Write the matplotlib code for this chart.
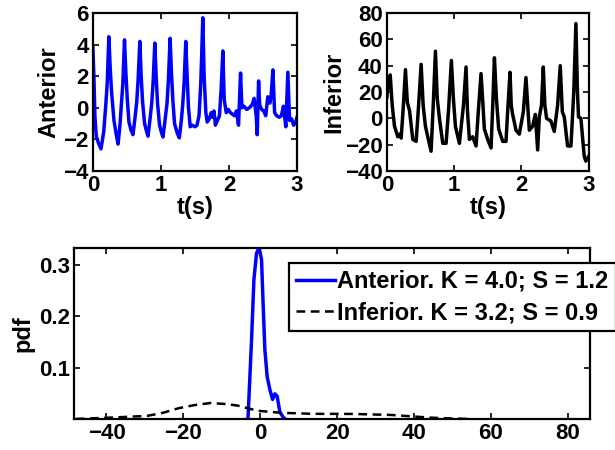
import numpy as np
import matplotlib
matplotlib.use("Agg")
import matplotlib.pyplot as plt

# anterior signal
t_ant = [0.00, 0.015, 0.03, 0.05, 0.08, 0.12, 0.16, 0.19, 0.21, 0.235,
         0.255, 0.275, 0.31, 0.34, 0.37, 0.40, 0.42, 0.44, 0.465,
         0.485, 0.505, 0.53, 0.56, 0.59, 0.62, 0.645, 0.665, 0.69,
         0.71, 0.73, 0.76, 0.79, 0.81, 0.84, 0.865, 0.885, 0.91,
         0.93, 0.95, 0.98, 1.01, 1.03, 1.06, 1.09, 1.11, 1.135,
         1.155, 1.175, 1.20, 1.24, 1.27, 1.30, 1.32, 1.34, 1.365,
         1.385, 1.405, 1.43, 1.46, 1.50, 1.53, 1.56, 1.585, 1.60, 1.615,
         1.635, 1.66, 1.68, 1.71, 1.74, 1.76, 1.78, 1.80, 1.83, 1.86, 1.885, 1.91,
         1.93, 1.96, 1.99, 2.02, 2.05, 2.08, 2.11, 2.14, 2.17,
         2.19, 2.22, 2.26, 2.30, 2.34, 2.37, 2.40, 2.415, 2.435,
         2.45, 2.48, 2.51, 2.54, 2.57, 2.60, 2.62, 2.645,
         2.67, 2.70, 2.74, 2.77, 2.80, 2.835, 2.865,
         2.89, 2.92, 2.95, 2.98, 3.00]
v_ant = [3.8, 2.0, -0.5, -1.8, -2.2, -2.6, -1.5, 0.2, 1.5, 4.5,
         2.5, 1.0, -0.8, -1.6, -2.3, -1.0, 0.3, 1.5, 4.3,
         2.2, 0.6, -0.9, -1.4, -1.7, -0.6, 0.4, 1.8, 4.2,
         2.0, 0.4, -1.0, -1.5, -1.8, -0.7, 0.3, 1.6, 4.1,
         2.0, 0.3, -1.1, -1.6, -1.85, -0.8, 0.3, 1.8, 4.4,
         2.2, 0.5, -1.0, -1.6, -1.9, -0.8, 0.2, 1.5, 4.2,
         2.0, 0.0, -1.2, -1.1, -1.2, -1.1, -0.5, 1.5, 3.5, 5.7,
         2.0, -0.3, -0.9, -0.7, -0.3, -0.6, -0.2, -1.1, -0.8, -0.5, 1.2, 3.6,
         0.5, -0.3, -0.1, -0.3, -0.4, -0.5, -0.2, -1.1, 2.2,
         0.0, 0.1, -0.1, 0.0, 0.2, 0.6, -0.5, -1.7, 1.7,
         0.2, -0.1, -0.2, -0.5, 0.7, 0.3, 0.8, 2.4,
         -0.3, -0.5, -0.6, -0.5, 0.1, -1.2, 2.25,
         -0.8, -0.7, -1.1, -0.9, -0.6]

# inferior signal
t_inf = [0.00, 0.015, 0.05, 0.08, 0.114, 0.163, 0.19, 0.213, 0.24, 0.277,
         0.305, 0.337, 0.386, 0.436, 0.47, 0.51, 0.54, 0.574, 0.609, 0.658,
         0.69, 0.723, 0.75, 0.782, 0.832, 0.881, 0.92, 0.96,
         0.99, 1.02, 1.079, 1.14, 1.178, 1.20, 1.228, 1.277, 1.327,
         1.36, 1.401, 1.43, 1.45, 1.50, 1.55, 1.575, 1.60,
         1.63, 1.663, 1.723, 1.772, 1.80, 1.832, 1.85, 1.871, 1.921, 1.97,
         2.03, 2.069, 2.095, 2.119, 2.168, 2.208, 2.243, 2.267, 2.30, 2.327,
         2.35, 2.376, 2.44, 2.49, 2.54, 2.579, 2.61, 2.639, 2.688, 2.738,
         2.78, 2.812, 2.835, 2.851, 2.886, 2.936, 2.96, 3.00]
v_inf = [16, 24, 33, 10, -6, -14, -12, -15, 5, 37,
         12, 6, -16, -17.5, 8, 41, 10, -6, -14, -25,
         10, 51, 15, 0, -19, -19, 8, 44,
         15, -6, -19, 10, 39, 5, -16, -14, -21,
         5, 34, 10, -8, -16, -22.5, 10, 46,
         15, -8, -17.5, -17.5, 8, 35, 10, 3, -9, -12,
         5, 31, 10, -9, -6, 3, -24, 1, 10, 39,
         10, 0, -2, -10, 10, 40, 5, 1, -21, -21,
         20, 72, 20, 1, 0, -29, -32.5, -29]

# pdf curves
x_pdf_ant = [-3.2, -2.27, -1.66, -0.97, -0.28, 0.33, 0.76, 1.2, 1.8, 2.5,
             3.2, 3.8, 4.4, 5.1, 6.0, 6.5]
p_pdf_ant = [0.0, 0.154, 0.271, 0.323, 0.333, 0.31, 0.219, 0.134, 0.082, 0.057,
             0.038, 0.049, 0.044, 0.013, 0.003, 0.0]
x_pdf_inf = [-48, -37.6, -29.4, -25.3, -21.2, -17.1, -13.0, -8.9, -5.9, -2.8,
             -0.8, 2.3, 5.4, 13.6, 23.8, 34.0, 40.2, 44.2, 50.4, 55]
p_pdf_inf = [0.0, 0.003, 0.006, 0.012, 0.021, 0.027, 0.031, 0.029, 0.026, 0.020,
             0.016, 0.014, 0.012, 0.010, 0.0098, 0.0078, 0.0046, 0.0026, 0.0007, 0.0]

legend_labels = ["Anterior. K = 4.0; S = 1.2", "Inferior. K = 3.2; S = 0.9"]

plt.rcParams['font.family'] = ['Liberation Sans', 'DejaVu Sans']
plt.rcParams['font.weight'] = 'bold'
plt.rcParams['axes.labelweight'] = 'bold'

fig = plt.figure(figsize=(6.15, 4.5), dpi=100)
ax1 = fig.add_axes([0.151, 0.62, 0.332, 0.351])
ax2 = fig.add_axes([0.629, 0.62, 0.328, 0.351])
ax3 = fig.add_axes([0.120, 0.069, 0.839, 0.38])

ax1.plot(t_ant, v_ant, color=(0, 0, 1), lw=2.5)
ax1.set_xlim(0, 3)
ax1.set_ylim(-4, 6)
ax1.set_yticks([-4, -2, 0, 2, 4, 6])
ax1.set_ylabel("Anterior", fontsize=17, labelpad=2)
ax1.set_xlabel("t(s)", fontsize=17, labelpad=0)

ax2.plot(t_inf, v_inf, color='black', lw=2.5)
ax2.set_xlim(0, 3)
ax2.set_ylim(-40, 80)
ax2.set_yticks([-40, -20, 0, 20, 40, 60, 80])
ax2.set_ylabel("Inferior", fontsize=17, labelpad=0)
ax2.set_xlabel("t(s)", fontsize=17, labelpad=0)

ax3.plot(x_pdf_ant, p_pdf_ant, color=(0, 0, 1), lw=2.5, label=legend_labels[0])
ax3.plot(x_pdf_inf, p_pdf_inf, color='black', lw=1.8, ls=(0, (3.5, 2.2)), label=legend_labels[1])
ax3.set_xlim(-48.5, 85.7)
ax3.set_ylim(0, 0.333)
ax3.set_yticks([0.1, 0.2, 0.3])
ax3.set_xticks([-40, -20, 0, 20, 40, 60, 80])
ax3.set_ylabel("pdf", fontsize=17, labelpad=3)

for ax in (ax1, ax2, ax3):
    ax.tick_params(direction='in', top=True, right=True, length=4, width=1.2,
                   labelsize=16, pad=3)
    for sp in ax.spines.values():
        sp.set_linewidth(1.6)

leg = ax3.legend(loc='upper left', bbox_to_anchor=(0.47, 0.416),
                 bbox_transform=fig.transFigure, fancybox=False,
                 framealpha=1, edgecolor='black', fontsize=17,
                 handlelength=1.65, handletextpad=0.1, borderpad=0.3,
                 labelspacing=0.35, borderaxespad=0)
leg.get_frame().set_linewidth(1.6)

fig.savefig("out.png", dpi=100)
